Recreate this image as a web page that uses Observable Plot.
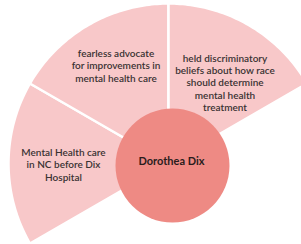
<!DOCTYPE html>
<html><head><meta charset="utf-8">
<script src="https://cdn.jsdelivr.net/npm/d3@7"></script>
<script src="https://cdn.jsdelivr.net/npm/@observablehq/plot@0.6"></script>
<style>body{margin:0;background:#fff;} svg{display:block}</style>
</head><body><div id="chart"></div>
<script>
// ---- data ----
const centerLabel = "Dorothea Dix";
const topics = [
  "Mental Health care\nin NC before Dix\nHospital",
  "fearless advocate\nfor improvements in\nmental health care",
  "held discriminatory\nbeliefs about how race\nshould determine\nmental health\ntreatment"
];
const shares = [1, 1, 1]; // equal wedges

// ---- layout (degrees clockwise from north) ----
const fanStart = -120, fanEnd = 60;
const outerR = 160, labelR = 105, coreR = 57;
const labelNudge = [[0, 1], [0, -7], [4, 10]]; // pixel tweaks per label
const total = d3.sum(shares);
let acc = 0;
const wedges = topics.map((t, i) => {
  const a0 = fanStart + (fanEnd - fanStart) * acc / total;
  acc += shares[i];
  const a1 = fanStart + (fanEnd - fanStart) * acc / total;
  return {topic: t, a0, a1};
});
const rad = d => d * Math.PI / 180;
const polyPts = [];
wedges.forEach((w, i) => {
  const pts = [{x: 0, y: 0}];
  const n = 60;
  for (let k = 0; k <= n; k++) {
    const a = rad(w.a0 + (w.a1 - w.a0) * k / n);
    pts.push({x: outerR * Math.sin(a), y: outerR * Math.cos(a)});
  }
  pts.push({x: 0, y: 0});
  pts.forEach(p => polyPts.push({...p, id: i}));
});
const labels = wedges.map((w, i) => {
  const a = rad((w.a0 + w.a1) / 2);
  return {text: w.topic, x: labelR * Math.sin(a) + labelNudge[i][0], y: labelR * Math.cos(a) - labelNudge[i][1]};
});

const chart = Plot.plot({
  width: 301, height: 244,
  margin: 0,
  x: {domain: [-168, 133], axis: null},
  y: {domain: [-81, 163], axis: null},
  style: {background: "#fff"},
  marks: [
    Plot.line(polyPts, {x: "x", y: "y", z: "id", fill: "#f8c8c9", stroke: "#fff", strokeWidth: 2.5, curve: "linear"}),
    Plot.dot([{x: 0, y: 0}], {x: "x", y: "y", r: coreR, fill: "#ee8a84", stroke: "none", dx: 4, dy: 2}),
    Plot.text(labels, {x: "x", y: "y", text: "text", fontSize: 10, lineHeight: 1.22, fill: "#3a3333", fontFamily: "Lato", fontWeight: 600, textAnchor: "middle"}),
    Plot.text([centerLabel], {x: () => 0, y: () => 0, text: d => d, fontSize: 11, fontWeight: "bold", fill: "#2a1c1c", fontFamily: "Lato", dx: 3, dy: -2})
  ]
});
document.getElementById("chart").append(chart);
</script>
</body></html>
